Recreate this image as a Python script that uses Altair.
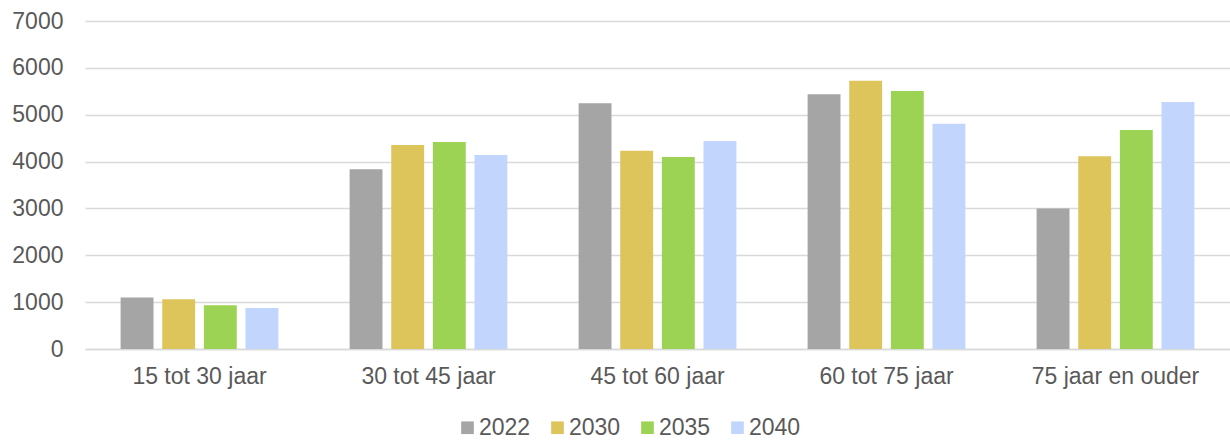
import altair as alt
import pandas as pd

categories = ["15 tot 30 jaar", "30 tot 45 jaar", "45 tot 60 jaar", "60 tot 75 jaar", "75 jaar en ouder"]
years = ["2022", "2030", "2035", "2040"]
values_2022 = [1100, 3835, 5243, 5435, 3000]
values_2030 = [1060, 4353, 4232, 5726, 4112]
values_2035 = [932, 4417, 4097, 5506, 4673]
values_2040 = [875, 4140, 4439, 4809, 5271]
colors = ["#A5A5A5", "#DDC45B", "#9DD354", "#C2D5FC"]

series = [values_2022, values_2030, values_2035, values_2040]
rows = []
for y, vals in zip(years, series):
    for c, v in zip(categories, vals):
        rows.append({"cat": c, "year": y, "value": v})
df = pd.DataFrame(rows)

FONT = "Liberation Sans"
TXT = "#595959"
FS = 23

chart = alt.Chart(df).mark_bar().encode(
    x=alt.X("cat:N", sort=categories, title=None,
            scale=alt.Scale(paddingInner=0.311, paddingOuter=0.1555),
            axis=alt.Axis(labelAngle=0, labelFont=FONT, labelFontSize=FS, labelColor=TXT,
                          ticks=False, domainColor="#D9D9D9", domainWidth=1.3,
                          labelPadding=16, grid=False)),
    xOffset=alt.XOffset("year:N", sort=years,
                        scale=alt.Scale(paddingInner=0.21, paddingOuter=0)),
    y=alt.Y("value:Q", title=None,
            scale=alt.Scale(domain=[0, 7000], nice=False),
            axis=alt.Axis(values=[0, 1000, 2000, 3000, 4000, 5000, 6000, 7000], format="d",
                          labelFont=FONT, labelFontSize=FS, labelColor=TXT,
                          ticks=False, domain=False, labelPadding=22,
                          gridColor="#D9D9D9", gridWidth=1.3)),
    color=alt.Color("year:N", sort=years,
                    scale=alt.Scale(domain=years, range=colors),
                    legend=alt.Legend(title=None, orient="none", direction="horizontal",
                                      legendX=371, legendY=395,
                                      symbolType="square", symbolSize=160,
                                      symbolStrokeWidth=0, labelFont=FONT,
                                      labelFontSize=FS, labelColor=TXT,
                                      labelOffset=0, columnPadding=15)),
).properties(
    width=1145, height=328,
    autosize=alt.AutoSizeParams(type="none"),
    padding={"left": 85, "top": 21, "right": 0, "bottom": 92},
).configure(background="white").configure_view(stroke=None, strokeWidth=0)

chart.save("out.html", embed_options={"renderer": "svg", "actions": False})
